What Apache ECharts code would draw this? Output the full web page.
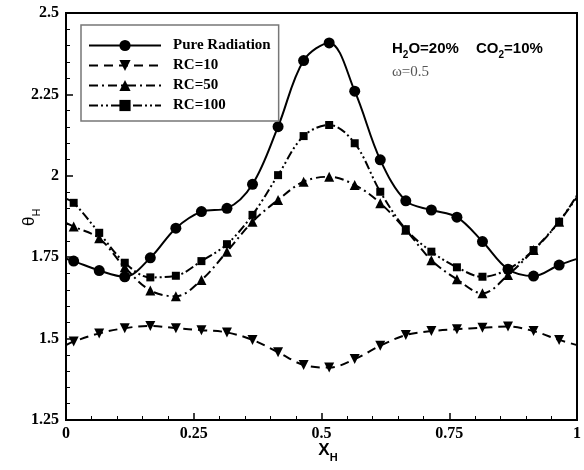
<!DOCTYPE html>
<html>
<head>
<meta charset="utf-8">
<script src="https://cdn.jsdelivr.net/npm/echarts@6/dist/echarts.min.js"></script>
<style>
  html, body { margin: 0; padding: 0; background: #fff; }
  #chart { width: 584px; height: 470px; }
</style>
</head>
<body>
<div id="chart"></div>
<script>
// Sample positions along the hot wall (markers)
const xH = [0.015, 0.065, 0.115, 0.165, 0.215, 0.265, 0.315, 0.365, 0.415, 0.465,
            0.515, 0.565, 0.615, 0.665, 0.715, 0.765, 0.815, 0.865, 0.915, 0.965];

// Dimensionless temperature theta_H for each case
const pureRadiation = [1.738, 1.709, 1.690, 1.748, 1.839, 1.890, 1.900, 1.974, 2.151, 2.354,
                       2.408, 2.260, 2.049, 1.923, 1.895, 1.873, 1.798, 1.713, 1.692, 1.726];
const rc10 = [1.491, 1.516, 1.532, 1.539, 1.532, 1.526, 1.519, 1.496, 1.458, 1.419,
              1.411, 1.437, 1.478, 1.511, 1.523, 1.529, 1.533, 1.537, 1.523, 1.496];
const rc50 = [1.844, 1.808, 1.719, 1.648, 1.630, 1.680, 1.767, 1.859, 1.926, 1.982,
              1.997, 1.972, 1.916, 1.834, 1.741, 1.682, 1.639, 1.695, 1.772, 1.859];
const rc100 = [1.917, 1.825, 1.733, 1.688, 1.693, 1.738, 1.790, 1.880, 2.002, 2.122,
               2.156, 2.100, 1.951, 1.836, 1.767, 1.719, 1.690, 1.713, 1.772, 1.859];

// Curve values at the two walls (x = 0 and x = 1), drawn without markers
const wallX = [0, 1];
const pureWall = [1.745, 1.745];
const rc10Wall = [1.480, 1.480];
const rc50Wall = [1.855, 1.935];
const rc100Wall = [1.930, 1.940];

const seriesNames = ['Pure Radiation', 'RC=10', 'RC=50', 'RC=100'];
const xTicks = [0, 0.25, 0.5, 0.75, 1];
const yTicks = [1.25, 1.5, 1.75, 2, 2.25, 2.5];

function buildData(vals, wall) {
  const pts = [{ value: [wallX[0], wall[0]], symbol: 'none' }];
  vals.forEach((v, i) => pts.push([xH[i], v]));
  pts.push({ value: [wallX[1], wall[1]], symbol: 'none' });
  return pts;
}

const SERIF = '"Liberation Serif", "Times New Roman", serif';
const SANS = '"Liberation Sans", Arial, sans-serif';

const chart = echarts.init(document.getElementById('chart'), null, { renderer: 'canvas' });

// measure text to lay out labels with subscripts
const mctx = document.createElement('canvas').getContext('2d');
function tw(str, font) { mctx.font = font; return mctx.measureText(str).width; }

// pieces: [text, fontSize, dy]; bottom-aligned pieces laid out left to right
function runText(pieces, weight, family, color) {
  let x = 0;
  const out = [];
  pieces.forEach(p => {
    const font = weight + ' ' + p[1] + 'px ' + family;
    out.push({
      type: 'text', x: x, y: p[2],
      style: { text: p[0], font: font, fill: color, verticalAlign: 'bottom', align: 'left' }
    });
    x += tw(p[0], font);
  });
  return { children: out, width: x };
}

const xName = runText([['X', 17, 0], ['H', 11, 4]], 'bold', SANS, '#000');
const yName = runText([['\u03B8', 17, 0], ['H', 11, 4]], 'normal', SANS, '#000');
const concA = runText([['H', 15, 0], ['2', 10, 4], ['O=20%', 15, 0]], 'bold', SANS, '#000');
const concB = runText([['CO', 15, 0], ['2', 10, 4], ['=10%', 15, 0]], 'bold', SANS, '#000');

const dashStyles = ['solid', [9, 6], [9, 4, 2, 4], [9, 3, 2, 3, 2, 3]];
const symbols = ['circle', 'triangle', 'triangle', 'rect'];
const symRot = [0, 180, 0, 0];
const symSizes = [11, 10, 10, 8];
const allVals = [pureRadiation, rc10, rc50, rc100];
const allWalls = [pureWall, rc10Wall, rc50Wall, rc100Wall];

const series = seriesNames.map((name, i) => ({
  name: name,
  type: 'line',
  smooth: 0.35,
  data: buildData(allVals[i], allWalls[i]),
  symbol: symbols[i],
  symbolRotate: symRot[i],
  symbolSize: symSizes[i],
  showAllSymbol: true,
  lineStyle: { color: '#000', width: 2, type: dashStyles[i] },
  itemStyle: { color: '#000', borderWidth: 0 },
  emphasis: { disabled: true },
  z: 3 + i
}));

const axisLbl = { fontFamily: SERIF, fontWeight: 'bold', fontSize: 16, color: '#000' };

chart.setOption({
  animation: false,
  backgroundColor: '#fff',
  grid: {
    left: 66, right: 1, top: 13, bottom: 50,
    show: true, borderColor: '#000', borderWidth: 2, backgroundColor: 'transparent'
  },
  legend: {
    data: seriesNames,
    orient: 'vertical',
    left: 81, top: 25,
    itemWidth: 72, itemHeight: 14, itemGap: 5,
    padding: [13, 8, 8, 7],
    backgroundColor: '#fff',
    borderColor: '#777', borderWidth: 1.5,
    textStyle: { fontFamily: SERIF, fontWeight: 'bold', fontSize: 15, color: '#000', padding: [0, 0, 0, 7] },
    selectedMode: false
  },
  xAxis: {
    type: 'value', min: xTicks[0], max: xTicks[xTicks.length - 1], interval: 0.25,
    axisLine: { show: true, onZero: false, lineStyle: { color: '#000', width: 2 } },
    axisTick: { show: true, inside: true, length: 7, lineStyle: { color: '#000', width: 1.5 } },
    minorTick: { show: true, splitNumber: 5, length: 4, lineStyle: { color: '#000', width: 1 } },
    splitLine: { show: false },
    axisLabel: Object.assign({ margin: 6 }, axisLbl)
  },
  yAxis: {
    type: 'value', min: yTicks[0], max: yTicks[yTicks.length - 1], interval: 0.25,
    axisLine: { show: true, onZero: false, lineStyle: { color: '#000', width: 2 } },
    axisTick: { show: true, inside: true, length: 7, lineStyle: { color: '#000', width: 1.5 } },
    minorTick: { show: true, splitNumber: 5, length: 4, lineStyle: { color: '#000', width: 1 } },
    splitLine: { show: false },
    axisLabel: Object.assign({ margin: 7 }, axisLbl)
  },
  series: series,
  graphic: [
    { type: 'group', x: 326 - xName.width / 2 + 2, y: 459, children: xName.children },
    { type: 'group', x: 38, y: 226, rotation: Math.PI / 2, children: yName.children },
    { type: 'group', x: 392, y: 56, children: concA.children },
    { type: 'group', x: 476, y: 56, children: concB.children },
    {
      type: 'text', x: 392, y: 80,
      style: { text: '\u03C9=0.5', font: 'normal 15px ' + SERIF, fill: '#555', verticalAlign: 'bottom', align: 'left' }
    }
  ]
});
</script>
</body>
</html>
